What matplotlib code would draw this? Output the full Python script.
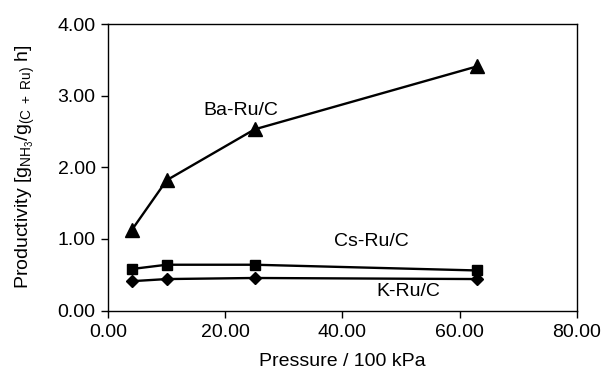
import matplotlib
matplotlib.use("Agg")
import matplotlib.pyplot as plt

plt.rcParams['font.family'] = ['Liberation Sans', 'DejaVu Sans']
plt.rcParams['mathtext.fontset'] = 'custom'
plt.rcParams['mathtext.rm'] = 'Liberation Sans'
plt.rcParams['mathtext.it'] = 'Liberation Sans'

# pressure in units of 100 kPa
pressure = [4, 10, 25, 63]
ba_ru_c = [1.12, 1.82, 2.53, 3.41]
cs_ru_c = [0.58, 0.64, 0.64, 0.56]
k_ru_c = [0.41, 0.44, 0.455, 0.44]

x_ticks = [0, 20, 40, 60, 80]
y_ticks = [0, 1, 2, 3, 4]

FS = 14

fig = plt.figure(figsize=(6.04, 3.76), dpi=100)
ax = fig.add_axes([0.179, 0.174, 0.776, 0.762])

line_kw = dict(color='black', linewidth=1.7, clip_on=False)
ax.plot(pressure, ba_ru_c, marker='^', markersize=9.5, **line_kw)
ax.plot(pressure, cs_ru_c, marker='s', markersize=7, **line_kw)
ax.plot(pressure, k_ru_c, marker='D', markersize=6.5, **line_kw)

ax.text(22.7, 2.80, 'Ba-Ru/C', fontsize=FS, ha='center', va='center')
ax.text(45.0, 0.97, 'Cs-Ru/C', fontsize=FS, ha='center', va='center')
ax.text(51.2, 0.265, 'K-Ru/C', fontsize=FS, ha='center', va='center')

ax.set_xlim(0, 80)
ax.set_ylim(0, 4)
ax.set_xticks(x_ticks)
ax.set_yticks(y_ticks)
ax.set_xticklabels([f'{v:.2f}' for v in x_ticks])
ax.set_yticklabels([f'{v:.2f}' for v in y_ticks])
ax.tick_params(direction='out', length=5, width=1, labelsize=FS)
ax.tick_params(axis='x', pad=5)
ax.tick_params(axis='y', pad=4)

for s in ax.spines.values():
    s.set_linewidth(1.0)

ax.set_xlabel('Pressure / 100 kPa', fontsize=FS, labelpad=8)
ax.set_ylabel(r'Productivity [$\mathregular{g_{NH_3}/g_{(C\ +\ Ru)}\ h}$]',
              fontsize=FS, labelpad=15)

fig.savefig('out.png', dpi=100)
